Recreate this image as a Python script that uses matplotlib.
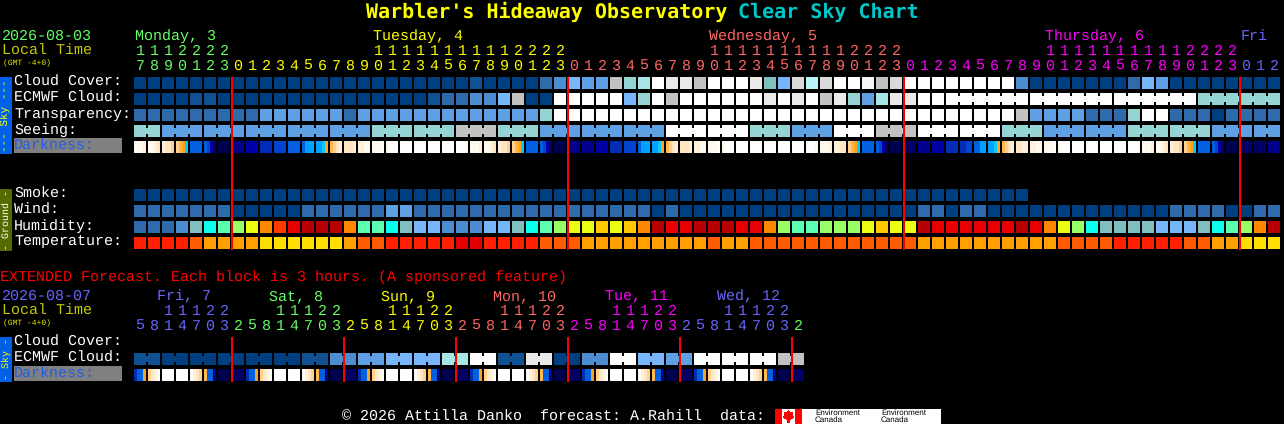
import matplotlib
matplotlib.use("Agg")
import numpy as np
import matplotlib.pyplot as plt
from matplotlib.colors import ListedColormap
from matplotlib.patches import Rectangle, Polygon

plt.rcParams['text.antialiased'] = True
plt.rcParams['text.hinting'] = 'none'
plt.rcParams['text.hinting_factor'] = 1

W, H = 1284, 424

# ---------- data ----------
title_main = "Warbler's Hideaway Observatory"
title_tail = "Clear Sky Chart"
main_date = "2026-08-03"
ext_date = "2026-08-07"
main_labels = ["Cloud Cover:", "ECMWF Cloud:", "Transparency:", "Seeing:", "Darkness:"]
ground_labels = ["Smoke:", "Wind:", "Humidity:", "Temperature:"]

cloud = "AAAAAAAAAAAAAAAAAAAAAAAABAAAACDFEEGUVWIIGWWWITFHXHWWJGHWWWWWWWWDAAAAAAACFEAAAAAAAA"
ecmwf = "AAAABBAAAAAAAAAAAAAAABCCDDFGAAWWWWWFUWGWWWWWWIWIWGIUEVIIWWWWWWWWWWWWWWWWWWWWUUUUUU"
transp = "CCCCCCCCCEEEEEECEEEEEEEEEEEEEUWWWWWWWWWWWWWWWWWWWWWWWWWWWWWWWWWGEEEECCCUWWCCCACCCC"
seeing = "UUEEEEEEEEEEEEEEEUUUUUUGGGUUUEEEEEEEEEWWWWWWUUUEEEWWWGGGWWWWWWUUUEEEEEEUUUUUUEEEEE"
smoke = "AAAAAAAAAAAAAAAAAAAAAAAAAAAAAAAAAAAAAAAAAAAAAAAAAAAAAAAAAAAAAAAA"
wind = "CCCCCCCAAAAACCCCCCEECCCCCCCCCCCCCCCCCACAAAAAAAAAAAAAAAAACCACCAAAAAAAAAAAAACCCCAACC"
humidity = "CCCDTamlyorRKKKommaTF" "FDDDFFTamlyygygoKRRKKKRRolmmlll" "ygyyKRRRRRRKRoylaTTTTFFFTamloK"
temperature = "QQQQOMMMMNNNNNNMOOQQQ" "QQPPQQQQOOOMMMMMMMMMOMMOOOOOOOO" "OOOOMMMMMMMMMMOOOOQQQQQOOMMNNN"
darkness = ["1112", "1123", "2334", "4567", "9999", "9ace", "ffff", "dddd", "cccc", "bbbb", "aaaa", "9999",
            "9888", "8876", "5432", "3332", "2211", "1110", "1000", "0000", "0000", "0000", "0000", "0001",
            "1112", "1123", "2334", "4567", "9999", "9ace", "ffff", "eddd", "dddd", "cccc", "bbbb", "aaaa",
            "9888", "8876", "5432", "3332", "2211", "1110", "1000", "0000", "0000", "0000", "0000", "0000",
            "0001", "1112", "2233", "4567", "9999", "9ace", "ffff", "eeee", "dddd", "cccc", "bbbb", "bbaa",
            "9988", "8876", "5432", "3322", "2211", "1110", "1000", "0000", "0000", "0000", "0000", "0001",
            "1112", "1123", "2334", "4567", "9999", "9ace", "ffff", "eeee", "eeee", "dddd"]
ext_ecmwf = "BAAAAABDEFFVWBIADWFEWWWG"
ext_darkness = ["b996", "4321", "0000", "0000", "1234", "599d", "ffff", "eeee"] * 6
main_hours = [(17 + i) % 24 for i in range(82)]
ext_hours = [(5 + 3 * i) % 24 for i in range(48)]
main_days = ["Monday, 3", "Tuesday, 4", "Wednesday, 5", "Thursday, 6", "Fri"]
ext_days = ["Fri, 7", "Sat, 8", "Sun, 9", "Mon, 10", "Tue, 11", "Wed, 12"]

for row in (cloud, ecmwf, transp, seeing, wind, humidity, temperature, darkness):
    assert len(row) == 82, len(row)
assert len(ext_ecmwf) == 24

# ---------- styles ----------
pal = dict(A='#003f7f', B='#0f5192', C='#2d6bab', D='#4c8dd1', E='#5f9fe3', F='#77b6fa',
           G='#c2c2c2', H='#d9d9d9', I='#e9e9e9', J='#f4f4f4', W='#ffffff',
           T='#7fbfbf', U='#94d4d3', V='#a6e6e5', X='#b6f6f5',
           a='#0affee', m='#5cffb0', l='#99ff66', y='#ebff12', g='#ffc800', o='#ff8800',
           r='#ff3a00', R='#e80000', K='#b80000',
           Q='#ff2000', P='#e40000', O='#ff5c00', M='#ff9f00', N='#ffde00')
dark_cmap = ListedColormap(['#ffffff', '#fffaf0', '#fff0dc', '#ffe6c0', '#ffd090', '#ffb848', '#ffa020',
                            '#00ccff', '#00a0ff', '#0060e0', '#0044d0', '#002cb8', '#0000a8', '#00008c',
                            '#000068', '#000050'])
day_cols = ['#66ff66', '#ffff00', '#ff6666', '#ff00ff', '#6666ff']
MONO = 'Liberation Mono'
CW, CH, PITCH, RH = 12 / 14, 12 / 16, 14, 16

fig = plt.figure(figsize=(W / 100, H / 100), dpi=100, facecolor='black')


def px_axes(x0, y0, x1, y1, ncols, nrows):
    a = fig.add_axes([x0 / W, 1 - y1 / H, (x1 - x0) / W, (y1 - y0) / H], facecolor='none')
    a.set_xlim(0, ncols)
    a.set_ylim(nrows, 0)
    a.axis('off')
    return a


tx = px_axes(0, 0, W, H, W, H)
tx.set_zorder(5)
ax = px_axes(134, 75, 134 + 82 * 14, 251, 82, 11)
ex = px_axes(134, 335, 134 + 48 * 14, 383, 48, 3)


def cell(a, i, r, color, width=CW):
    a.add_patch(Rectangle((i, r + 2 / RH), width, CH, fc=color, ec='none', antialiased=False))


def link(a, i, r, color):
    # short tab that joins two cells of one forecast block
    a.add_patch(Rectangle((i + CW, r + 5 / RH), 1 - CW, 6 / RH, fc=color, ec='none', antialiased=False))


def row_cells(a, codes, r, same_block=None):
    for i, c in enumerate(codes):
        cell(a, i, r, pal[c])
        if same_block is not None and i + 1 < len(codes) and same_block(i):
            link(a, i, r, pal[c])


def dark_cells(a, cells, r):
    for i, s in enumerate(cells):
        X = np.linspace(i, i + CW, len(s) + 1)
        Y = [r + 2 / RH, r + 14 / RH]
        a.pcolormesh(X, Y, [[int(ch, 16) for ch in s]], cmap=dark_cmap, vmin=-0.5, vmax=15.5,
                     antialiased=False, linewidth=0)


def midnight_line(a, c, nrows_end):
    a.add_patch(Rectangle((c - 1 / PITCH, 2 / RH), 2 / PITCH, nrows_end - 2 / RH, fc='#ff0000', ec='none',
                          antialiased=False, zorder=4))


row_cells(ax, cloud, 0)
row_cells(ax, ecmwf, 1, lambda i: i >= 58 and (i - 58) % 6 != 5)
row_cells(ax, transp, 2)
row_cells(ax, seeing, 3, lambda i: (i + 1) // 3 == (i + 2) // 3)
dark_cells(ax, darkness, 4)
row_cells(ax, smoke, 7)
row_cells(ax, wind, 8)
row_cells(ax, humidity, 9)
row_cells(ax, temperature, 10)
row_cells(ex, "".join(c + c for c in ext_ecmwf), 1, lambda i: i % 2 == 0)
dark_cells(ex, ext_darkness, 2)

for c in (7, 31, 55, 79):
    midnight_line(ax, c, 10 + 15 / RH)
for c in range(7, 48, 8):
    midnight_line(ex, c, 2 + 15 / RH)


# ---------- text ----------
def put(x, y, s, color='white', px=15.2, family=MONO, weight='normal', **kw):
    tx.text(x, y + 1, s, color=color, fontsize=px * 0.72, family=family, weight=weight,
            ha=kw.pop('ha', 'left'), va='center', **kw)


put(366, 11, title_main, '#ffff00', 20, 'DejaVu Sans Mono', 'bold')
put(738, 11, title_tail, '#00c8c8', 20, 'DejaVu Sans Mono', 'bold')

put(2, 35, main_date, day_cols[0])
put(2, 50, "Local Time", '#c8c800')
put(3, 62, "(GMT -4+0)", '#e8e800', 8)
put(2, 295, ext_date, day_cols[4])
put(2, 310, "Local Time", '#c8c800')
put(3, 322, "(GMT -4+0)", '#e8e800', 8)
put(0, 276, "EXTENDED Forecast. Each block is 3 hours. (A sponsored feature)", '#ff0000')

# hour labels, main chart
day = 0
for i, h in enumerate(main_hours):
    if h == 0 and i > 0:
        day += 1
    cx = 134 + PITCH * i + 6
    col = day_cols[day]
    if h >= 10:
        put(cx, 50, str(h // 10), col, ha='center')
    put(cx, 65, str(h % 10), col, ha='center')
for name, c, col in zip(main_days, (0, 17, 41, 65, 79), day_cols):
    put(134 + PITCH * c + 1, 35, name, col)

# hour labels, extended chart
ext_cols = [day_cols[4], day_cols[0], day_cols[1], day_cols[2], day_cols[3], day_cols[4], day_cols[0]]
for i, h in enumerate(ext_hours):
    col = ext_cols[(i + 1) // 8]
    cx = 134 + PITCH * i + 6
    if h >= 10:
        put(cx, 310, str(h // 10), col, ha='center')
    put(cx, 325, str(h % 10), col, ha='center')
for k, name in enumerate(ext_days):
    put(157 + 112 * k, 295, name, ext_cols[k])

# row labels
tx.add_patch(Rectangle((14, 138), 108, 15, fc='#808080', ec='none', antialiased=False))
tx.add_patch(Rectangle((14, 366), 108, 15, fc='#808080', ec='none', antialiased=False))
for k, s in enumerate(main_labels):
    put(14, 81 + RH * k, s, '#1f5fe0' if s == "Darkness:" else 'white')
for k, s in enumerate(ground_labels):
    put(14, 193 + RH * k, s)
put(14, 341, main_labels[0])
put(14, 357, main_labels[1])
put(14, 373, main_labels[4], '#1f5fe0')

# side bars
tx.add_patch(Rectangle((0, 77), 12, 77, fc='#0060e8', ec='none', antialiased=False))
tx.add_patch(Rectangle((0, 189), 12, 62, fc='#556b00', ec='none', antialiased=False))
tx.add_patch(Rectangle((0, 337), 12, 45, fc='#0060e8', ec='none', antialiased=False))
put(6, 114.5, "--- Sky ---", '#ffff00', 11.5, rotation=90, ha='center')
put(6, 219, "- Ground -", 'white', 10.2, rotation=90, ha='center')
put(6, 358.5, "- Sky -", '#ffff00', 10.5, rotation=90, ha='center')

# footer
put(342, 416, "\u00a9 2026 Attilla Danko  forecast: A.Rahill  data:")
tx.add_patch(Rectangle((775, 409), 166, 15, fc='white', ec='none', antialiased=False))
tx.add_patch(Rectangle((775, 409), 7, 15, fc='#ff0000', ec='none', antialiased=False))
tx.add_patch(Rectangle((795, 409), 7, 15, fc='#ff0000', ec='none', antialiased=False))
tx.add_patch(Polygon([(788.5, 410), (790, 413), (793, 412.5), (792, 416), (793.5, 417), (789.5, 420),
                      (789, 423), (788, 423), (787.5, 420), (783.5, 417), (785, 416), (784, 412.5), (787, 413)],
                     closed=True, fc='#ff0000', ec='none', antialiased=False))
for x in (815, 881):
    put(x, 412, "Environment", 'black', 8.2, 'Liberation Sans')
    put(x, 419, "Canada", 'black', 8.2, 'Liberation Sans')

fig.savefig('out.png', dpi=100, facecolor='black')
